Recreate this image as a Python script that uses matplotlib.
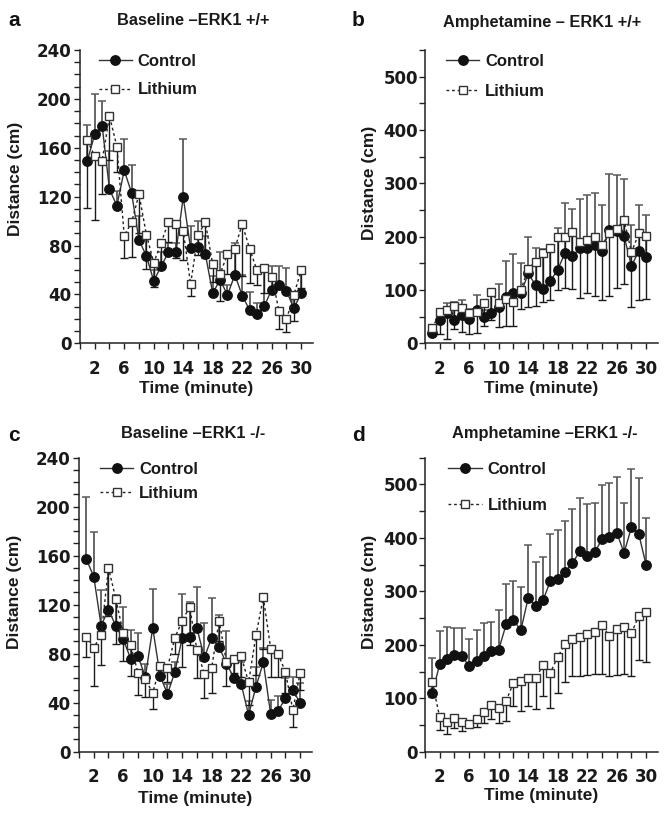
import matplotlib
matplotlib.use('Agg')
import matplotlib.pyplot as plt
import numpy as np
from matplotlib.ticker import MultipleLocator, FixedLocator

plt.rcParams['font.family'] = ['Liberation Sans', 'DejaVu Sans']
plt.rcParams['font.weight'] = 'bold'

minutes = list(range(1, 31))

# Panel a: Baseline ERK1 +/+
ctrl_a = [149.5, 171, 178, 126, 112.6, 141.5, 123, 84.5, 71.5, 51, 63, 74.5, 74.5, 119.5, 77.7,
          79, 73, 41, 52, 39.5, 56, 39, 27.3, 23.7, 30.5, 44, 47.7, 43, 28.6, 41]
ctrl_a_hi = [179, 204, 198, 157, 125, 167, 146, 104, 87, 60, 75, 82, 82, 167, 96,
             100, 88, 55, 75, 48, 82, 56, 42, 33, 62, 63, 63, 62, 40, 57]
li_a = [166, 153, 149.5, 186, 161, 88, 99, 122, 89, 66, 82, 99.5, 98, 92, 48.5,
        88.6, 99, 64.6, 56.7, 73, 77.5, 97.6, 77.5, 59.7, 61.4, 54.5, 26.5, 19.6, 39.5, 60]
li_a_lo = [111, 101, 122, 150, 140, 69.5, 71, 90, 61, 46, 63, 83, 70, 68, 38.7,
           72, 70, 50, 35, 57, 54.5, 55, 49, 48, 41, 45, 12, 9, 18, 45]

# Panel b: Amphetamine ERK1 +/+
ctrl_b = [20, 44, 56, 44, 53, 45, 62, 49, 56, 69, 87, 95, 93.5, 131, 109,
          101, 117, 138, 170, 163, 179, 179, 185, 173, 212, 210, 201, 145, 173, 162]
ctrl_b_hi = [28, 62, 75, 78, 81, 64, 90, 62, 98, 111, 155, 168, 151, 200, 178,
             176, 185, 216, 264, 251, 271, 278, 282, 260, 318, 315, 308, 222, 260, 241]
li_b = [28, 58, 62, 70, 67, 56, 58, 75, 97, 75, 84, 78, 100, 140, 153,
        170, 178, 200, 200, 209, 190, 194, 200, 184, 206, 215, 231, 171, 206, 201]
li_b_lo = [15, 17, 7.5, 26, 22, 17.5, 20, 32, 44, 31, 32, 33, 65, 68, 70,
           77, 82, 100, 103, 102, 85, 93.5, 89, 81, 88.5, 104, 112, 68.6, 81, 84]

# Panel c: Baseline ERK1 -/-
ctrl_c = [157, 143, 103, 116, 102.6, 91.7, 76, 78, 61, 101, 62, 47, 65, 93, 94,
          100.7, 77, 93, 85.4, 72, 60.4, 55, 30, 53, 73, 30.5, 33, 44, 50, 40]
ctrl_c_hi = [208, 179, 132, 147, 128, 117.8, 99, 97, 72, 133, 71, 55, 73, 129, 122,
             134.7, 104.8, 125.7, 112, 98.5, 77.5, 73, 41, 69, 85, 42, 45.7, 60, 61, 56]
li_c = [94, 85, 95, 150, 124.6, 96.6, 87, 64.5, 59, 48, 70, 68.6, 93, 107, 118,
        83, 63.5, 68.6, 107, 73, 76, 78, 56.6, 95, 126, 84, 80, 65, 34, 64.5]
li_c_lo = [77, 54, 71, 111, 88, 74, 62, 46, 45, 35, 61, 57, 80, 69, 87,
           60, 44, 48, 90, 53.6, 64, 60.7, 38, 63, 84, 61, 60.7, 48, 20.4, 50]

# Panel d: Amphetamine ERK1 -/-
ctrl_d = [110, 164, 174, 180, 179, 160, 170, 179, 188, 191, 238, 246, 227, 288, 272,
          283, 319, 324, 336, 353, 375, 365.5, 373, 397, 401.6, 410, 372, 420, 406.6, 348.7]
ctrl_d_hi = [176, 226, 233.5, 232, 231, 210, 227, 240, 243, 266, 314, 319, 308, 387, 355,
             364, 406.6, 415, 431, 454.5, 474.5, 462.6, 466, 499, 502.5, 513.7, 465.7, 528.6, 512, 437]
li_d = [129.5, 64, 55, 63.5, 56, 51, 62, 74.7, 87, 82, 95, 129, 132.6, 137, 137,
        162, 147.6, 177.5, 202, 211.7, 214.8, 219.8, 223.5, 236.6, 216.7, 230, 233, 222, 254, 261]
li_d_lo = [102, 40.5, 33, 43.6, 38.6, 45.5, 47, 53, 62, 53, 58, 85, 76, 85, 80,
           104, 82, 110, 129.5, 142, 142, 143, 144.5, 146, 142, 143, 144.5, 142, 171, 168]

titles = ['Baseline \u2013ERK1 +/+', 'Amphetamine \u2013 ERK1 +/+',
          'Baseline \u2013ERK1 -/-', 'Amphetamine \u2013ERK1 -/-']
letters = ['a', 'b', 'c', 'd']
xtick_labels = [2, 6, 10, 14, 18, 22, 26, 30]

W, H = 670, 816
fig = plt.figure(figsize=(W / 100, H / 100), dpi=100)

def fx(px):
    return px / W

def fy(py):
    return 1 - py / H

panels = [
    dict(rect=[fx(80), fy(343.3), fx(233), 293.3 / H], ymax=240, major=40, minor=10,
         ctrl=ctrl_a, chi=ctrl_a_hi, li=li_a, llo=li_a_lo,
         title_xy=(193, 25), letter_xy=(8, 26), ylab_x=-0.245, ylab_y=0.56, xlab_y=-0.13,
         leg_xy=(0.08, 0.987), leg_sp=0.82, ypad=2),
    dict(rect=[fx(425), fy(343.3), fx(233), 293.3 / H], ymax=550, major=100, minor=50,
         ctrl=ctrl_b, chi=ctrl_b_hi, li=li_b, llo=li_b_lo,
         title_xy=(542, 27), letter_xy=(352, 26), ylab_x=-0.205, ylab_y=0.547, xlab_y=-0.13,
         leg_xy=(0.09, 0.987), leg_sp=0.92, ypad=1),
    dict(rect=[fx(79), fy(751.7), fx(233), 294 / H], ymax=240, major=40, minor=10,
         ctrl=ctrl_c, chi=ctrl_c_hi, li=li_c, llo=li_c_lo,
         title_xy=(193, 438), letter_xy=(8, 441), ylab_x=-0.245, ylab_y=0.544, xlab_y=-0.135,
         leg_xy=(0.09, 0.987), leg_sp=0.57, ypad=2),
    dict(rect=[fx(425), fy(751.7), fx(233), 294 / H], ymax=550, major=100, minor=50,
         ctrl=ctrl_d, chi=ctrl_d_hi, li=li_d, llo=li_d_lo,
         title_xy=(545, 438), letter_xy=(352, 441), ylab_x=-0.205, ylab_y=0.544, xlab_y=-0.122,
         leg_xy=(0.10, 0.987), leg_sp=1.27, ypad=1),
]

for i, p in enumerate(panels):
    ax = fig.add_axes(p['rect'])
    ctrl = np.array(p['ctrl'], dtype=float)
    chi = np.array(p['chi'], dtype=float)
    li = np.array(p['li'], dtype=float)
    llo = np.array(p['llo'], dtype=float)
    zeros = np.zeros_like(ctrl)

    ax.errorbar(minutes, ctrl, yerr=[zeros, np.clip(chi - ctrl, 0, None)], fmt='none',
                ecolor='#5a5a5a', elinewidth=1.3, capsize=3, capthick=1.1, zorder=2)
    ax.errorbar(minutes, li, yerr=[np.clip(li - llo, 0, None), zeros], fmt='none',
                ecolor='#1a1a1a', elinewidth=1.0, capsize=3, capthick=1.0, zorder=2)
    ax.plot(minutes, ctrl, '-', color='#333333', lw=1.0, marker='o', ms=6.8,
            mfc='#111111', mec='#111111', label='Control', zorder=4)
    ax.plot(minutes, li, linestyle=(0, (2, 2)), color='#222222', lw=1.0, marker='s', ms=6.2,
            mfc='white', mec='#333333', mew=1.0, label='Lithium', zorder=5)

    ax.set_xlim(0, 31.6)
    ax.set_ylim(0, p['ymax'])
    ax.xaxis.set_major_locator(FixedLocator(xtick_labels))
    ax.xaxis.set_minor_locator(MultipleLocator(2))
    ax.yaxis.set_major_locator(MultipleLocator(p['major']))
    ax.yaxis.set_minor_locator(MultipleLocator(p['minor']))
    for s in ['top', 'right']:
        ax.spines[s].set_visible(False)
    for s in ['left', 'bottom']:
        ax.spines[s].set_linewidth(1.1)
        ax.spines[s].set_color('#222222')
    ax.tick_params(axis='both', which='both', direction='out', length=4, width=1, color='#222222')
    ax.tick_params(axis='x', which='major', pad=8, labelsize=12, labelcolor='#1a1a1a')
    ax.tick_params(axis='y', which='major', pad=p['ypad'], labelsize=12, labelcolor='#1a1a1a')
    for lab in ax.get_xticklabels() + ax.get_yticklabels():
        lab.set_fontweight('bold')
        lab.set_fontfamily('DejaVu Sans')

    ax.set_ylabel('Distance (cm)', fontsize=12.5, fontweight='bold', color='#1a1a1a')
    ax.yaxis.set_label_coords(p['ylab_x'], p['ylab_y'])
    ax.set_xlabel('Time (minute)', fontsize=12.5, fontweight='bold', color='#1a1a1a')
    ax.xaxis.set_label_coords(0.5, p['xlab_y'])

    leg = ax.legend(loc='upper left', bbox_to_anchor=p['leg_xy'], frameon=False,
                    prop={'weight': 'bold', 'size': 12}, handlelength=2.0, handletextpad=0.35,
                    labelspacing=p['leg_sp'], borderpad=0, borderaxespad=0, numpoints=1)
    for t in leg.get_texts():
        t.set_color('#1a1a1a')

    tx, ty = p['title_xy']
    fig.text(fx(tx), fy(ty), titles[i], ha='center', va='baseline', fontsize=11.8,
             fontweight='bold', color='#1a1a1a')
    lx, ly = p['letter_xy']
    fig.text(fx(lx), fy(ly), letters[i], ha='left', va='baseline', fontsize=15,
             fontweight='bold', color='#111111')

fig.savefig('out.png', dpi=100)
